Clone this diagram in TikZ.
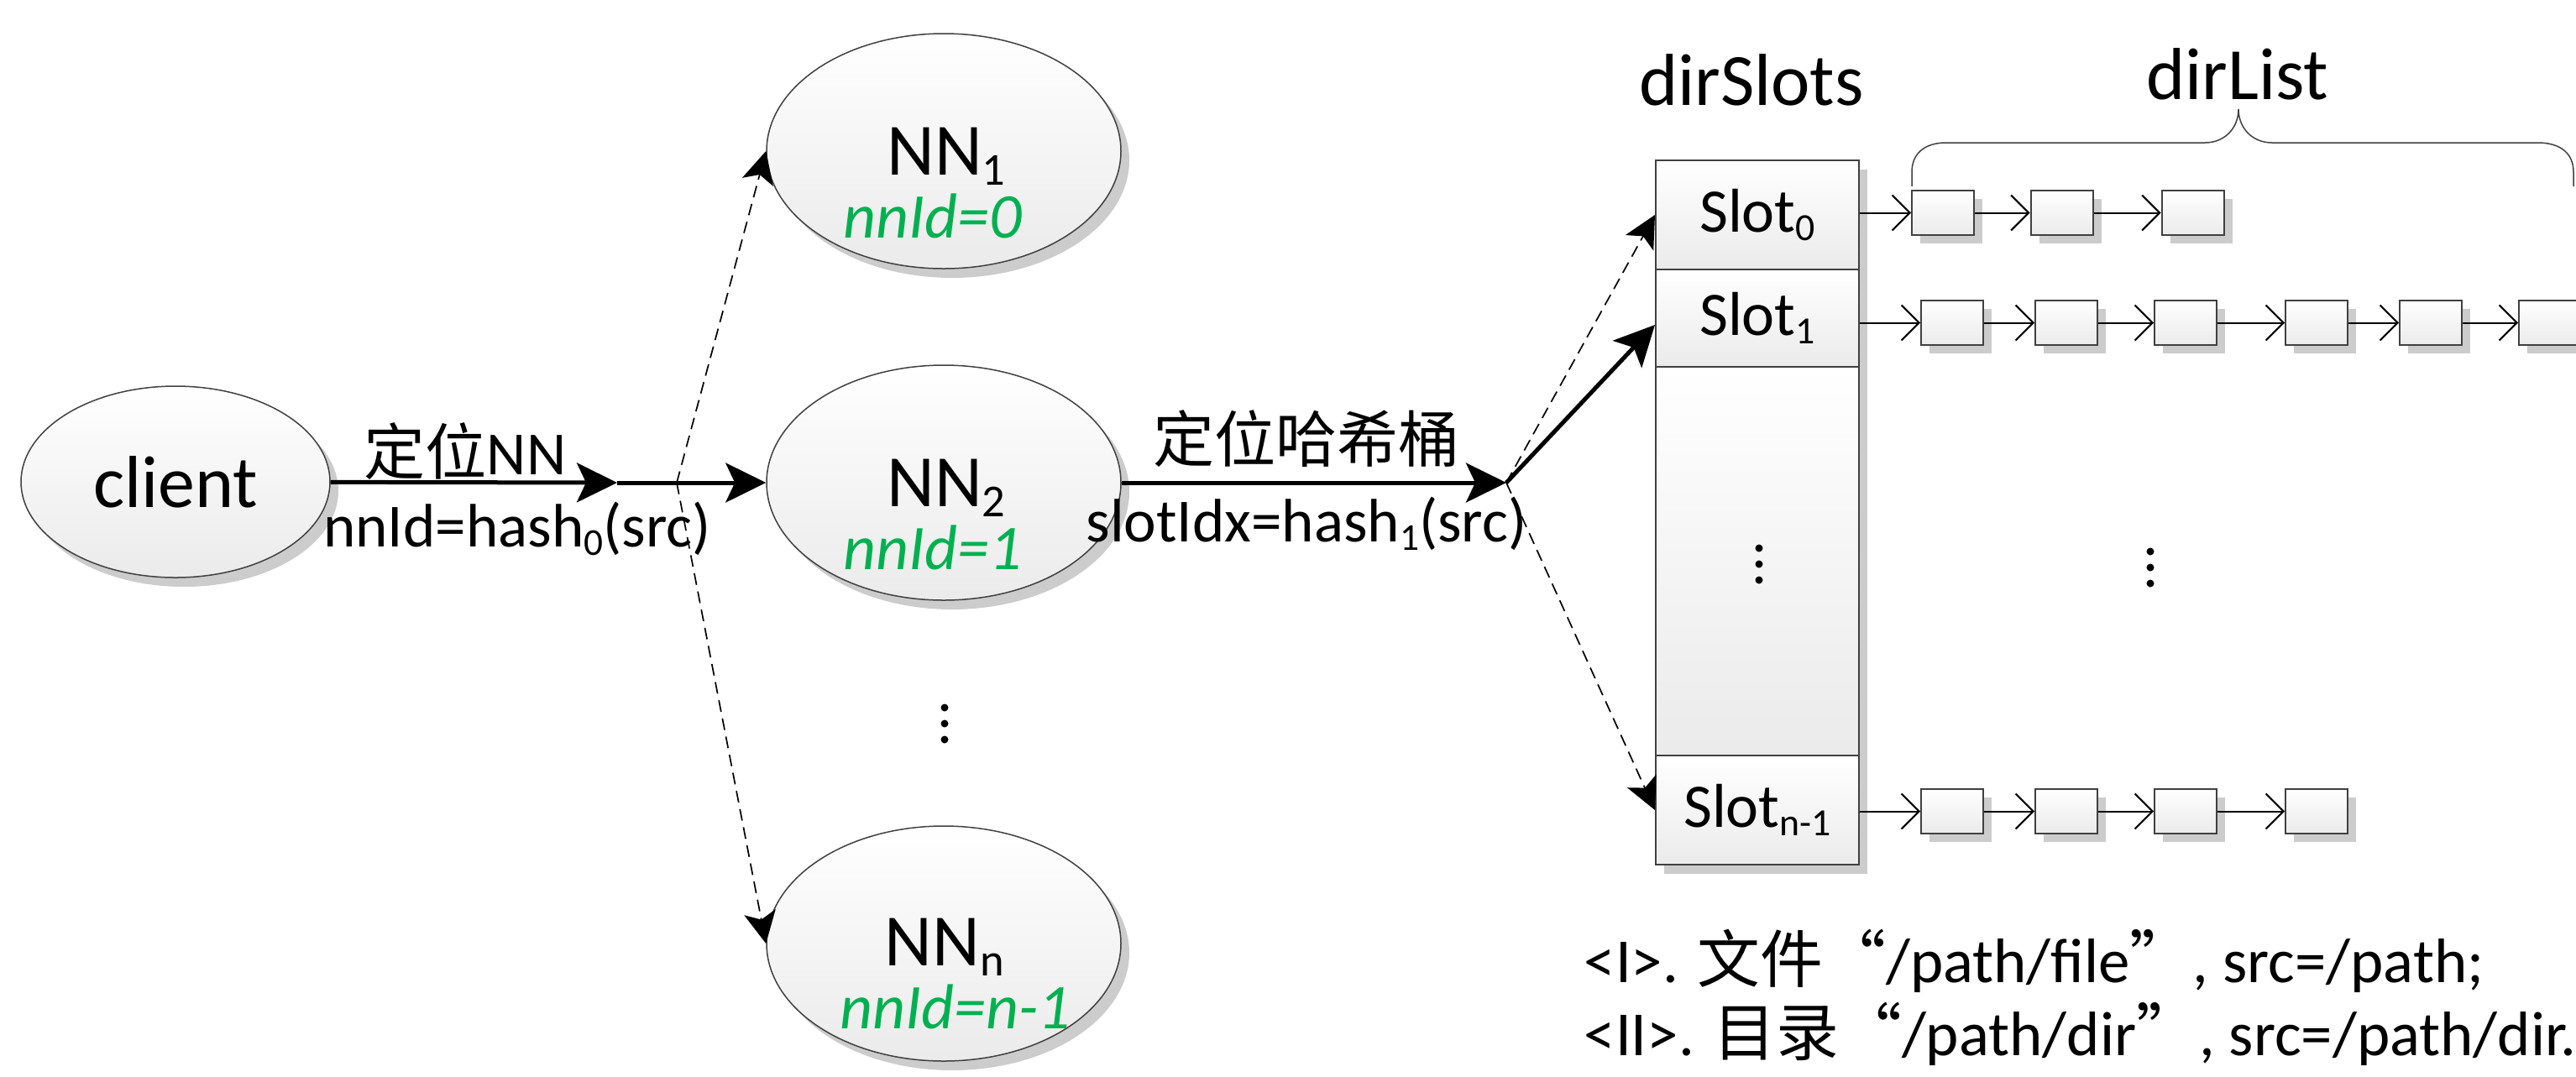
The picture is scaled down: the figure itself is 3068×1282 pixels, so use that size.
\documentclass[tikz,border=0pt]{standalone}
\usepackage{fontspec}
\setmainfont{Carlito}
\newfontfamily\cjk{Noto Sans CJK SC}
\usepackage{graphicx}
\usetikzlibrary{shapes.geometric,arrows.meta,shadows,calc}
\definecolor{edgegray}{HTML}{404040}
\definecolor{idgreen}{HTML}{00B050}
\newcommand\mysb[1]{\raisebox{-0.14em}{\scalebox{0.62}{#1}}}
\newcommand\bigf{\fontsize{25pt}{30pt}\selectfont}
\newcommand\labf{\fontsize{20.8pt}{24pt}\selectfont}
\newcommand\idf{\fontsize{21.6pt}{26pt}\selectfont\itshape\color{idgreen}}
\newcommand\slotf{\fontsize{21pt}{25pt}\selectfont}
\newcommand\notef{\fontsize{21.3pt}{25pt}\selectfont}
\begin{document}
\begin{tikzpicture}[x=0.1mm,y=-0.1mm,
  shd/.style={drop shadow={shadow xshift=1mm,shadow yshift=-1.1mm,fill=black!20,opacity=1}},
  grad/.style={top color=white,bottom color=black!8,draw=edgegray},
  ell/.style={ellipse,grad,shd,line width=0.15mm,inner sep=0pt},
  nnell/.style={ell,minimum width=42.2mm,minimum height=28mm},
  cell/.style={rectangle,grad,shd,line width=0.2mm,minimum width=24.2mm,inner sep=0pt,font=\slotf},
  lbox/.style={rectangle,grad,drop shadow={shadow xshift=1mm,shadow yshift=-1mm,fill=black!20,opacity=1},line width=0.2mm,minimum width=7.4mm,minimum height=5.3mm,inner sep=0pt},
  bigarrow/.style={line width=0.5mm,-{Stealth[length=4.8mm,width=4.7mm,inset=1.1mm]}},
  dasharrow/.style={line width=0.17mm,dash pattern=on 1.4mm off 0.8mm,-{Stealth[length=3.8mm,width=3.8mm,inset=0.9mm]}},
  listarrow/.style={line width=0.2mm,-{Straight Barb[length=2.1mm,width=4.2mm]}},
  txt/.style={anchor=base,inner sep=0pt},
  dotf/.style={fill=black}
]
\useasboundingbox (0,0) rectangle (3068,1282);
\clip (0,0) rectangle (3068,1282);

% ellipses
\node[ell,minimum width=36.8mm,minimum height=22.8mm,font=\bigf] (client) at (209,574) {client};
\node[nnell] (NN1) at (1124,180) {};
\node[nnell] (NN2) at (1124,575) {};
\node[nnell] (NNn) at (1124,1124) {};
\node[txt,font=\bigf] (t1) at ($(NN1.center)+(3,28)$) {NN\mysb{1}};
\node[txt,font=\idf] (i1) at ($(NN1.center)+(-13,103)$) {nnId=0};
\node[txt,font=\bigf] (t2) at ($(NN2.center)+(3,28)$) {NN\mysb{2}};
\node[txt,font=\idf] (i2) at ($(NN2.center)+(-13,103)$) {nnId=1};
\node[txt,font=\bigf] (tn) at ($(NNn.center)+(1,26)$) {NN\mysb{n}};
\node[txt,font=\idf] (in) at ($(NNn.center)+(14,101)$) {nnId=n-1};

% dots between NN2 and NNn
\fill[dotf] (1125,843) circle (4.5) (1125,862) circle (4.5) (1125,881) circle (4.5);

% slot column
\node[cell,minimum height=13mm] (s0) at (2093,256) {Slot\mysb{0}};
\node[cell,minimum height=11.6mm] (s1) at (2093,379) {Slot\mysb{1}};
\node[cell,minimum height=46.3mm] (sm) at (2093,668.5) {};
\node[cell,minimum height=13mm] (sn) at (2093,965) {Slot\mysb{n-1}};
\fill[dotf] (2095,653) circle (4.5) (2095,672) circle (4.5) (2095,691) circle (4.5);
\fill[dotf] (2561,657) circle (4.5) (2561,676) circle (4.5) (2561,695) circle (4.5);

\node[txt,font=\bigf] (dslots) at (2086,125) {dirSlots};
\node[txt,font=\bigf] (dlist) at (2665,118) {dirList};

% brace
\draw[edgegray,line width=0.15mm] (2277,222) -- (2277,205) .. controls (2277,183) and (2292,170) .. (2318,170) -- (2626,170) .. controls (2650,170) and (2666,152) .. (2666,130) .. controls (2666,152) and (2682,170) .. (2706,170) -- (3022,170) .. controls (3050,170) and (3065,183) .. (3065,205) -- (3065,222);

% list boxes
\foreach \x [count=\i] in {2314,2455.5,2611.5} \node[lbox] (a\i) at (\x,253.5) {};
\foreach \x [count=\i] in {2325,2461,2603,2759,2895,3037} \node[lbox] (b\i) at (\x,384.5) {};
\foreach \x [count=\i] in {2325,2461,2603,2759} \node[lbox] (c\i) at (\x,966.5) {};

\draw[listarrow] (s0.east |- a1) -- (a1);
\draw[listarrow] (a1) -- (a2);
\draw[listarrow] (a2) -- (a3);
\draw[listarrow] (s1.east |- b1) -- (b1);
\foreach \i/\j in {1/2,2/3,3/4,4/5,5/6} \draw[listarrow] (b\i) -- (b\j);
\draw[listarrow] (sn.east |- c1) -- (c1);
\foreach \i/\j in {1/2,2/3,3/4} \draw[listarrow] (c\i) -- (c\j);

% main connectors
\coordinate (m1) at (735,575);
\coordinate (j1) at (806,575);
\coordinate (j2) at (1794,575);
\draw[bigarrow] (client) -- (m1);
\draw[bigarrow] (m1) -- (NN2);
\draw[dasharrow] (j1) -- (NN1.west);
\draw[dasharrow] (j1) -- (NNn.west);
\draw[bigarrow] (NN2) -- (j2);
\draw[bigarrow] (j2) -- ($(s1.west)+(0,8)$);
\draw[dasharrow] (j2) -- (s0.west);
\draw[dasharrow] (j2) -- (sn.west);

% edge labels
\node[txt,font=\labf] (l1) at (554,565) {{\cjk 定位}NN};
\node[txt,font=\labf] (l2) at (616,651) {nnId=hash\mysb{0}(src)};
\node[txt,font=\labf] (l3) at (1556,550) {\cjk 定位哈希桶};
\node[txt,font=\labf] (l4) at (1556,645) {slotIdx=hash\mysb{1}(src)};

% notes
\node[anchor=base west,font=\notef,inner sep=0pt] (n1) at (1886,1170) {<I>. {\cjk 文件“}/path/file{\cjk ”}, src=/path;};
\node[anchor=base west,font=\notef,inner sep=0pt] (n2) at (1886,1257) {<II>. {\cjk 目录“}/path/dir{\cjk ”}, src=/path/dir.};
\end{tikzpicture}
\end{document}
